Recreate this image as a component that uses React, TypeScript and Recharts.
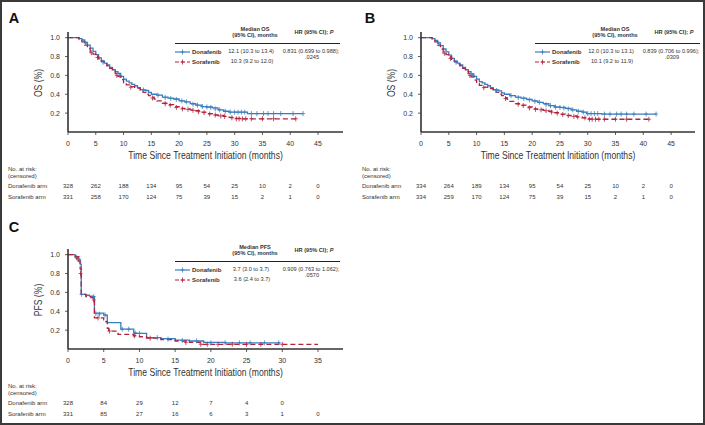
import React from "react";
import { ComposedChart, Line, Scatter, XAxis, YAxis, Label } from "recharts";

const BLUE = "#3a7dbf";
const RED = "#b3223d";
const INK = "#333";
const FONT = "'Liberation Sans', Arial, sans-serif";
const SQUEEZE = 0.82; // the source uses a condensed face for axis titles

type P = [number, number];

const osTicks = [0, 5, 10, 15, 20, 25, 30, 35, 40, 45];
const pfsTicks = [0, 5, 10, 15, 20, 25, 30, 35];
const survTicks = [0.2, 0.4, 0.6, 0.8, 1.0];

// Panel A - OS
const osDonaA: P[] = [
  [0, 1], [1.3, 1], [2, 0.99], [2.5, 0.975], [3, 0.95], [3.5, 0.92], [4, 0.89], [4.5, 0.855],
  [5, 0.82], [5.5, 0.785], [6, 0.75], [6.5, 0.73], [7, 0.71], [7.5, 0.685], [8, 0.66], [8.5, 0.64],
  [9, 0.62], [9.5, 0.59], [10, 0.56], [10.5, 0.54], [11, 0.52], [11.5, 0.505], [12, 0.49],
  [12.5, 0.47], [13, 0.45], [13.5, 0.445], [14, 0.44], [14.5, 0.42], [15, 0.4], [16, 0.39],
  [17, 0.37], [18, 0.36], [19, 0.35], [20, 0.33], [21, 0.32], [22, 0.3], [23, 0.285], [24, 0.27],
  [25, 0.265], [26, 0.255], [27, 0.235], [28, 0.22], [29, 0.21], [32.3, 0.195], [42.3, 0.195],
];
const osSoraA: P[] = [
  [0, 1], [1.3, 1], [2, 0.98], [2.5, 0.955], [3, 0.92], [3.5, 0.885], [4, 0.85], [4.5, 0.825],
  [5, 0.8], [5.5, 0.775], [6, 0.75], [6.5, 0.725], [7, 0.7], [7.5, 0.675], [8, 0.65], [8.5, 0.62],
  [9, 0.59], [9.5, 0.555], [10, 0.52], [10.5, 0.5], [11, 0.48], [12, 0.465], [13, 0.44],
  [13.5, 0.42], [14, 0.4], [14.5, 0.385], [15, 0.37], [15.5, 0.35], [16, 0.33], [17, 0.305],
  [18, 0.29], [19, 0.27], [20, 0.25], [21, 0.245], [22, 0.235], [23, 0.225], [24, 0.21],
  [25, 0.195], [26, 0.18], [27, 0.175], [28, 0.165], [29, 0.155], [30, 0.145], [31, 0.14], [41, 0.14],
];
const censDonaA: P[] = [
  [3.2, 0.94], [6.3, 0.74], [9.3, 0.6], [13.6, 0.445], [16.2, 0.39], [17.5, 0.365], [18.5, 0.355],
  [19.5, 0.345], [20.5, 0.33], [21.3, 0.32], [22.5, 0.295], [23.3, 0.285], [24.2, 0.27], [25, 0.265],
  [25.7, 0.26], [26.5, 0.245], [27.3, 0.235], [28.3, 0.22], [29.2, 0.21], [30, 0.21], [30.6, 0.21],
  [31.2, 0.21], [31.8, 0.21], [33, 0.195], [34, 0.195], [35.2, 0.195], [36, 0.195], [37, 0.195],
  [38.3, 0.195], [40.5, 0.195], [42.3, 0.195],
];
const censSoraA: P[] = [
  [4.2, 0.84], [5.3, 0.79], [8.8, 0.6], [11.3, 0.475], [15.2, 0.36], [17.5, 0.3], [18.4, 0.285],
  [19.5, 0.26], [20.6, 0.245], [21.6, 0.24], [22.5, 0.23], [23.5, 0.215], [24.5, 0.205], [25.5, 0.19],
  [26.5, 0.18], [27.5, 0.17], [28.2, 0.165], [29.5, 0.15], [30.3, 0.14], [30.8, 0.14], [31.4, 0.14],
  [32, 0.14], [33, 0.14], [35, 0.14], [37, 0.14], [41, 0.14],
];
const riskDonaA = [328, 262, 188, 134, 95, 54, 25, 10, 2, 0];
const riskSoraA = [331, 258, 170, 124, 75, 39, 15, 2, 1, 0];

// Panel B - OS
const osDonaB: P[] = [
  [0, 1], [1.3, 1], [2, 0.99], [2.5, 0.97], [3, 0.945], [3.5, 0.915], [4, 0.88], [4.5, 0.85],
  [5, 0.815], [5.5, 0.78], [6, 0.75], [6.5, 0.73], [7, 0.71], [7.5, 0.685], [8, 0.66], [8.5, 0.64],
  [9, 0.615], [9.5, 0.59], [10, 0.56], [10.5, 0.535], [11, 0.52], [11.5, 0.505], [12, 0.49],
  [12.5, 0.47], [13, 0.45], [13.5, 0.445], [14, 0.435], [14.5, 0.415], [15, 0.4], [16, 0.385],
  [17, 0.37], [18, 0.36], [19, 0.345], [20, 0.33], [21, 0.315], [22, 0.3], [23, 0.28], [24, 0.265],
  [25, 0.26], [26, 0.25], [27, 0.235], [28, 0.22], [29, 0.21], [29.8, 0.195], [32.5, 0.19], [42.3, 0.19],
];
const osSoraB: P[] = [
  [0, 1], [1.3, 1], [2, 0.98], [2.5, 0.955], [3, 0.92], [3.5, 0.88], [4, 0.845], [4.5, 0.82],
  [5, 0.795], [5.5, 0.77], [6, 0.745], [6.5, 0.72], [7, 0.7], [7.5, 0.675], [8, 0.65], [8.5, 0.62],
  [9, 0.585], [9.5, 0.55], [10, 0.515], [10.5, 0.495], [11, 0.475], [12, 0.46], [13, 0.435],
  [13.5, 0.42], [14, 0.4], [14.5, 0.385], [15, 0.365], [15.5, 0.345], [16, 0.325], [17, 0.3],
  [18, 0.285], [19, 0.265], [20, 0.245], [21, 0.24], [22, 0.23], [23, 0.22], [24, 0.205],
  [25, 0.19], [26, 0.175], [27, 0.17], [28, 0.16], [29, 0.15], [30, 0.14], [31, 0.135], [41, 0.135],
];
const censDonaB: P[] = [
  [3.2, 0.935], [6.3, 0.74], [9.3, 0.6], [13.6, 0.44], [16.2, 0.385], [17.5, 0.365], [18.5, 0.355],
  [19.5, 0.34], [20.5, 0.325], [21.3, 0.315], [22.5, 0.29], [23.3, 0.28], [24.2, 0.265], [25, 0.26],
  [25.7, 0.255], [26.5, 0.245], [27.3, 0.235], [28.3, 0.22], [29.2, 0.21], [30, 0.195], [30.6, 0.195],
  [31.2, 0.195], [31.8, 0.195], [33, 0.19], [34, 0.19], [35.2, 0.19], [36, 0.19], [37, 0.19],
  [38.3, 0.19], [40.5, 0.19], [42.3, 0.19],
];
const censSoraB: P[] = [
  [4.2, 0.835], [5.3, 0.78], [8.8, 0.6], [11.3, 0.47], [15.2, 0.355], [17.5, 0.295], [18.4, 0.28],
  [19.5, 0.255], [20.6, 0.24], [21.6, 0.235], [22.5, 0.225], [23.5, 0.21], [24.5, 0.2], [25.5, 0.185],
  [26.5, 0.175], [27.5, 0.165], [28.2, 0.16], [29.5, 0.15], [30.3, 0.135], [30.8, 0.135], [31.4, 0.135],
  [32, 0.135], [33, 0.135], [35, 0.135], [37, 0.135], [41, 0.135],
];
const riskDonaB = [334, 264, 189, 134, 95, 54, 25, 10, 2, 0];
const riskSoraB = [334, 259, 170, 124, 75, 39, 15, 2, 1, 0];

// Panel C - PFS
const pfsDona: P[] = [
  [0, 1], [0.5, 1], [1, 0.98], [1.5, 0.95], [1.7, 0.9], [1.85, 0.58], [2.5, 0.57], [3, 0.56],
  [3.5, 0.555], [3.7, 0.38], [5, 0.36], [5.5, 0.28], [7.4, 0.21], [9.2, 0.17], [9.5, 0.165],
  [11, 0.12], [13, 0.11], [15, 0.095], [17, 0.085], [19, 0.07], [22, 0.065], [29.7, 0.065],
];
const pfsSora: P[] = [
  [0, 1], [0.5, 1], [1, 0.98], [1.5, 0.93], [1.7, 0.85], [1.85, 0.58], [2.5, 0.555], [3.2, 0.545],
  [3.5, 0.52], [3.7, 0.33], [5, 0.31], [5.3, 0.29], [5.5, 0.22], [5.7, 0.19], [7, 0.155],
  [9.2, 0.14], [10, 0.13], [11, 0.115], [13, 0.1], [15, 0.085], [17, 0.07], [18.5, 0.05], [35, 0.05],
];
const censPfsDona: P[] = [
  [1.2, 0.97], [1.6, 0.93], [1.9, 0.58], [3.6, 0.555], [3.9, 0.375], [4.4, 0.37], [5.2, 0.36],
  [7.6, 0.21], [8.5, 0.21], [9.4, 0.17], [10, 0.165], [12.5, 0.12], [14, 0.105], [16, 0.09],
  [18, 0.085], [20, 0.065], [22, 0.065], [24, 0.065], [25.5, 0.065], [27.5, 0.065], [29.5, 0.065],
];
const censPfsSora: P[] = [
  [1.3, 0.96], [1.75, 0.8], [3.6, 0.52], [4.2, 0.33], [5.8, 0.19], [9.3, 0.14], [11.5, 0.115],
  [16.5, 0.07], [18.6, 0.05], [19.5, 0.05], [21, 0.05], [23, 0.05], [25, 0.05], [27, 0.05], [30, 0.05],
];
const riskPfsDona = [328, 84, 29, 12, 7, 4, 0];
const riskPfsSora = [331, 85, 27, 16, 6, 3, 1, 0];

const toPts = (a: P[]) => a.map(([t, s]) => ({ t, s }));

const cross = (color: string) => (props: any) => {
  const { cx, cy } = props;
  if (cx == null || cy == null) return <g />;
  return (
    <path
      d={`M${cx - 2},${cy}h4M${cx},${cy - 2.5}v5`}
      stroke={color}
      strokeWidth={0.8}
      fill="none"
    />
  );
};

function NarrowText({ x, y, angle = 0, children }: { x: number; y: number; angle?: number; children: React.ReactNode }) {
  return (
    <g transform={`translate(${x} ${y}) rotate(${angle}) scale(${SQUEEZE} 1)`}>
      <text
        x={0}
        y={0}
        textAnchor="middle"
        dominantBaseline="central"
        fontSize={10.5}
        fill={INK}
        fontFamily={FONT}
      >
        {children}
      </text>
    </g>
  );
}

type PanelProps = {
  left: number;
  top: number;
  width: number;
  right: number;
  xMax: number;
  xTicks: number[];
  yLabel: string;
  dona: P[];
  sora: P[];
  donaCens: P[];
  soraCens: P[];
  riskDona: number[];
  riskSora: number[];
};

function KMPanel(p: PanelProps) {
  const renderTick = (props: any) => {
    const { x, y, payload } = props;
    const i = p.xTicks.indexOf(payload.value);
    const common = { x, textAnchor: "middle" as const, dominantBaseline: "central" as const, fill: INK, fontFamily: FONT };
    return (
      <g>
        <text {...common} y={y + 6.5} fontSize={7}>{payload.value}</text>
        {p.riskDona[i] !== undefined && (
          <text {...common} y={y + 49} fontSize={6}>{p.riskDona[i]}</text>
        )}
        {p.riskSora[i] !== undefined && (
          <text {...common} y={y + 59.5} fontSize={6}>{p.riskSora[i]}</text>
        )}
      </g>
    );
  };

  const renderXLabel = (props: any) => {
    const vb = props.viewBox || { x: 68, y: 132, width: 275, height: 72 };
    return (
      <NarrowText x={vb.x + vb.width / 2} y={vb.y + 23}>
        Time Since Treatment Initiation (months)
      </NarrowText>
    );
  };

  const renderYLabel = (props: any) => {
    const vb = props.viewBox || { x: 0, y: 32, width: 68, height: 100 };
    return (
      <NarrowText x={vb.x + vb.width - 30} y={vb.y + vb.height / 2 + 1} angle={-90}>
        {p.yLabel}
      </NarrowText>
    );
  };

  return (
    <div style={{ position: "absolute", left: p.left, top: p.top }}>
      <ComposedChart width={p.width} height={204} margin={{ top: 32, right: p.right, left: 0, bottom: 0 }}>
        <XAxis
          type="number"
          dataKey="t"
          domain={[0, p.xMax]}
          ticks={p.xTicks}
          interval={0}
          allowDataOverflow
          height={72}
          tickSize={3}
          tickMargin={2}
          axisLine={{ stroke: INK, strokeWidth: 1.6 }}
          tickLine={{ stroke: INK, strokeWidth: 0.8 }}
          tick={renderTick}
        >
          <Label content={renderXLabel} />
        </XAxis>
        <YAxis
          type="number"
          dataKey="s"
          domain={[0, 1.06]}
          ticks={survTicks}
          interval={0}
          allowDataOverflow
          width={68}
          tickSize={3}
          tickMargin={5}
          axisLine={{ stroke: INK, strokeWidth: 1.6 }}
          tickLine={{ stroke: INK, strokeWidth: 0.8 }}
          tick={{ fill: INK, fontSize: 7, fontFamily: FONT }}
          tickFormatter={(v: number) => v.toFixed(1)}
        >
          <Label content={renderYLabel} />
        </YAxis>
        <Line
          data={toPts(p.dona)}
          dataKey="s"
          type="stepAfter"
          stroke={BLUE}
          strokeWidth={1.3}
          dot={false}
          isAnimationActive={false}
        />
        <Line
          data={toPts(p.sora)}
          dataKey="s"
          type="stepAfter"
          stroke={RED}
          strokeWidth={1.3}
          strokeDasharray="5 3"
          dot={false}
          isAnimationActive={false}
        />
        <Scatter data={toPts(p.donaCens)} dataKey="s" shape={cross(BLUE)} isAnimationActive={false} />
        <Scatter data={toPts(p.soraCens)} dataKey="s" shape={cross(RED)} isAnimationActive={false} />
      </ComposedChart>
    </div>
  );
}

function Sample({ color, dashed }: { color: string; dashed?: boolean }) {
  return (
    <svg width={15} height={6} style={{ display: "block" }}>
      <line x1={0} y1={3} x2={15} y2={3} stroke={color} strokeWidth={1.2} strokeDasharray={dashed ? "4 2" : undefined} />
      <path d="M5.5,3h4M7.5,0.5v5" stroke={color} strokeWidth={0.8} />
    </svg>
  );
}

type StatsProps = {
  left: number;
  top: number;
  metric: string;
  donaMed: string;
  soraMed: string;
  hr: string;
  p: string;
};

function Stats(s: StatsProps) {
  const base: React.CSSProperties = {
    position: "absolute",
    fontFamily: FONT,
    fontSize: 5.6,
    lineHeight: 1,
    color: INK,
    whiteSpace: "nowrap",
    transform: "translate(-50%, -50%)",
  };
  const leftBase: React.CSSProperties = { ...base, transform: "translate(0, -50%)" };
  return (
    <div style={{ position: "absolute", left: s.left, top: s.top }}>
      <div style={{ ...base, left: 80, top: -13.5, fontWeight: "bold" }}>{`Median ${s.metric}`}</div>
      <div style={{ ...base, left: 80, top: -7.5, fontWeight: "bold" }}>(95% CI), months</div>
      <div style={{ ...base, left: 139, top: -10.5, fontWeight: "bold" }}>
        HR (95% CI); <i>P</i>
      </div>
      <div style={{ position: "absolute", left: 0, top: -0.5, width: 165, height: 1, background: "#222" }} />
      <div style={{ position: "absolute", left: 0, top: 5 }}>
        <Sample color={BLUE} />
      </div>
      <div style={{ ...leftBase, left: 17, top: 8, fontWeight: "bold", fontSize: 6 }}>Donafenib</div>
      <div style={{ position: "absolute", left: 0, top: 15.5 }}>
        <Sample color={RED} dashed />
      </div>
      <div style={{ ...leftBase, left: 17, top: 18.5, fontWeight: "bold", fontSize: 6 }}>Sorafenib</div>
      <div style={{ ...base, left: 76, top: 8 }}>{s.donaMed}</div>
      <div style={{ ...base, left: 77, top: 18.5 }}>{s.soraMed}</div>
      <div style={{ ...base, left: 136, top: 8 }}>{s.hr}</div>
      <div style={{ ...base, left: 137, top: 14.5 }}>{s.p}</div>
    </div>
  );
}

function RiskLabels({ left, top }: { left: number; top: number }) {
  const st: React.CSSProperties = {
    position: "absolute",
    left: 0,
    fontFamily: FONT,
    fontSize: 6,
    lineHeight: 1,
    color: INK,
    whiteSpace: "nowrap",
    transform: "translate(0, -50%)",
  };
  return (
    <div style={{ position: "absolute", left, top }}>
      <div style={{ ...st, top: 0 }}>No. at risk:</div>
      <div style={{ ...st, top: 7 }}>(censored)</div>
      <div style={{ ...st, top: 17 }}>Donafenib arm</div>
      <div style={{ ...st, top: 27.5 }}>Sorafenib arm</div>
    </div>
  );
}

function PanelLetter({ x, y, ch }: { x: number; y: number; ch: string }) {
  return (
    <div
      style={{
        position: "absolute",
        left: x,
        top: y,
        transform: "translate(-50%, -50%)",
        fontFamily: FONT,
        fontWeight: "bold",
        fontSize: 14.5,
        lineHeight: 1,
        color: "#111",
      }}
    >
      {ch}
    </div>
  );
}

export default function App() {
  return (
    <div
      style={{
        position: "absolute",
        left: 0,
        top: 0,
        width: 705,
        height: 425,
        background: "#fff",
        overflow: "hidden",
      }}
    >
      <PanelLetter x={14} y={18} ch="A" />
      <PanelLetter x={370} y={18} ch="B" />
      <PanelLetter x={14} y={227} ch="C" />

      <KMPanel
        left={0}
        top={0}
        width={350}
        right={7}
        xMax={49.5}
        xTicks={osTicks}
        yLabel="OS (%)"
        dona={osDonaA}
        sora={osSoraA}
        donaCens={censDonaA}
        soraCens={censSoraA}
        riskDona={riskDonaA}
        riskSora={riskSoraA}
      />
      <KMPanel
        left={353}
        top={0}
        width={350}
        right={8}
        xMax={49.3}
        xTicks={osTicks}
        yLabel="OS (%)"
        dona={osDonaB}
        sora={osSoraB}
        donaCens={censDonaB}
        soraCens={censSoraB}
        riskDona={riskDonaB}
        riskSora={riskSoraB}
      />
      <KMPanel
        left={0}
        top={217}
        width={350}
        right={7}
        xMax={38.5}
        xTicks={pfsTicks}
        yLabel="PFS (%)"
        dona={pfsDona}
        sora={pfsSora}
        donaCens={censPfsDona}
        soraCens={censPfsSora}
        riskDona={riskPfsDona}
        riskSora={riskPfsSora}
      />

      <Stats left={175} top={43.5} metric="OS" donaMed="12.1 (10.3 to 13.4)" soraMed="10.3 (9.2 to 12.0)" hr="0.831 (0.699 to 0.988);" p=".0245" />
      <Stats left={535} top={43.5} metric="OS" donaMed="12.0 (10.3 to 13.1)" soraMed="10.1 (9.2 to 11.9)" hr="0.839 (0.706 to 0.996);" p=".0309" />
      <Stats left={175} top={261.5} metric="PFS" donaMed="3.7 (3.0 to 3.7)" soraMed="3.6 (2.4 to 3.7)" hr="0.909 (0.763 to 1.062);" p=".0570" />

      <RiskLabels left={8} top={169} />
      <RiskLabels left={362} top={169} />
      <RiskLabels left={8} top={386} />

      <div
        style={{
          position: "absolute",
          left: 0,
          top: 0,
          width: 705,
          height: 425,
          border: "2px solid #3a3a3a",
          boxSizing: "border-box",
          pointerEvents: "none",
        }}
      />
    </div>
  );
}
